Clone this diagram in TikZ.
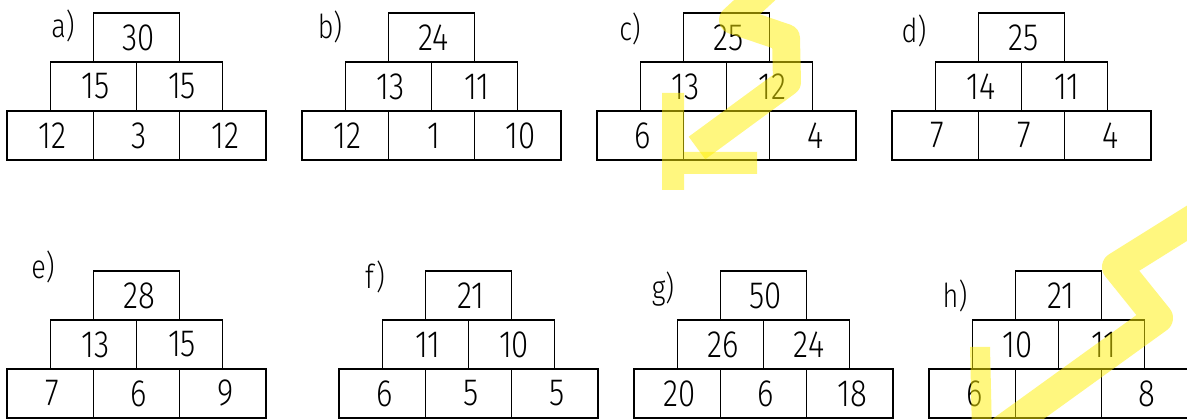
\documentclass[tikz,border=0pt]{standalone}
\usepackage{fontspec}
\setmainfont{Fira Sans}[UprightFont={* Light}, FakeStretch=0.82]
\definecolor{hlyellow}{RGB}{255,241,0}
\newcommand\pyramid[9]{%
  \node[cell] (#1t)  at ({#2+129.45},{#3+24.5})  {\hspace*{5pt}#4};
  \node[cell] (#1ml) at ({#2+86.3},{#3+73.5})    {\hspace*{5pt}#5};
  \node[cell] (#1mr) at ({#2+172.6},{#3+73.5})   {\hspace*{5pt}#6};
  \node[cell] (#1bl) at ({#2+43.15},{#3+122.5})  {\hspace*{5pt}#7};
  \node[cell] (#1bm) at ({#2+129.45},{#3+122.5}) {\hspace*{5pt}#8};
  \node[cell] (#1br) at ({#2+215.75},{#3+122.5}) {\hspace*{5pt}#9};}
\begin{document}
\begin{tikzpicture}[x=1pt,y=-1pt,
  cell/.style={draw, line width=1.3pt, minimum width=86.3pt, minimum height=49pt,
    inner sep=0pt, font=\fontsize{38}{40}\selectfont},
  lbl/.style={font=\fontsize{33}{35}\selectfont, inner sep=0pt},
  hl/.style={draw=hlyellow, draw opacity=0.5, line join=round, line cap=butt},
  hlfill/.style={fill=hlyellow, fill opacity=0.5, draw=none}]
\useasboundingbox[fill=white] (0,0) rectangle (1187,419);

\pyramid{a}{7}{13}{30}{15}{15}{12}{3}{12}
\pyramid{b}{302}{13}{24}{13}{11}{12}{1}{10}
\pyramid{c}{597}{13}{25}{13}{12}{6}{}{4}
\pyramid{d}{892}{13}{25}{14}{11}{7}{7}{4}
\pyramid{e}{7}{271}{28}{13}{15}{7}{6}{9}
\pyramid{f}{339}{271}{21}{11}{10}{6}{5}{5}
\pyramid{g}{634}{271}{50}{26}{24}{20}{6}{18}
\pyramid{h}{929}{271}{21}{10}{11}{6}{}{8}

\node[lbl] (la) at (63,26)  {a)};
\node[lbl] (lb) at (330,27) {b)};
\node[lbl] (lc) at (630,29) {c)};
\node[lbl] (ld) at (914,31) {d)};
\node[lbl] (le) at (43,267) {e)};
\node[lbl] (lf) at (375,277) {f)};
\node[lbl] (lg) at (663,289) {g)};
\node[lbl] (lh) at (955,296) {h)};

\draw[hl, line width=28pt] (770,-14) -- (733,20) -- (786,38) -- (787,82) -- (697,148);
\fill[hlfill] (662,93) -- (684,93) -- (684,152) -- (757,152) -- (757,174)
  -- (684,174) -- (684,190) -- (662,190) -- cycle;
\draw[hl, line width=30pt] (1205,212) -- (1117,267) -- (1158,318) -- (1000,432);
\fill[hlfill] (970,347) -- (990,347) -- (992,432) -- (972,432) -- cycle;
\end{tikzpicture}
\end{document}
